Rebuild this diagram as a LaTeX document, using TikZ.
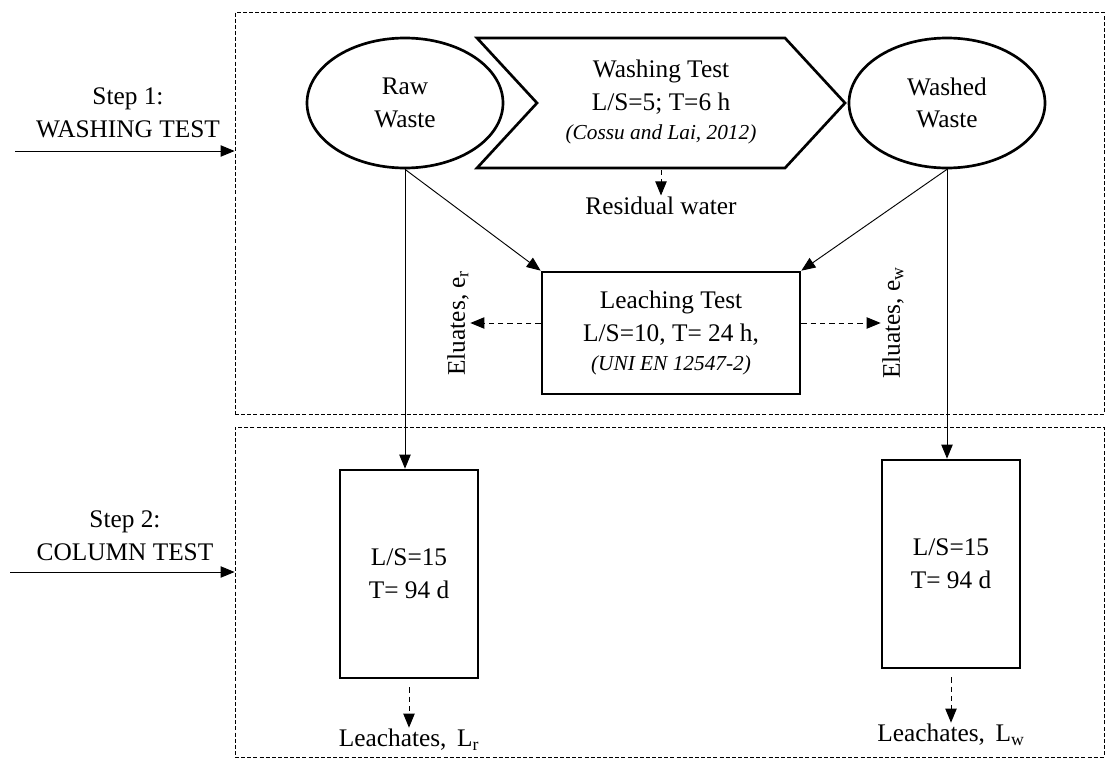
\documentclass[tikz,border=0pt]{standalone}
\usepackage{fontspec}
\setmainfont{Liberation Serif}
\usetikzlibrary{arrows.meta,calc,shapes.geometric}
\begin{document}
\begin{tikzpicture}[x=0.75pt,y=-0.75pt,
  >={Triangle[length=10.5pt,width=8.5pt]},
  every node/.style={font=\fontsize{19}{24.5}\selectfont, inner sep=0pt, align=center},
  thickbox/.style={draw, line width=2pt},
  ell/.style={thickbox, ellipse, minimum width=147pt, minimum height=97.5pt},
  col/.style={thickbox, rectangle, minimum width=103.5pt, minimum height=156pt},
  stagebox/.style={draw, line width=0.6pt, dash pattern=on 3pt off 1.6pt, minimum width=651.75pt},
  conn/.style={->, line width=0.7pt},
  dconn/.style={->, line width=0.7pt, dash pattern=on 4pt off 3pt, shorten >=1pt}
]
\useasboundingbox (0,0) rectangle (1106,760);

% stage boxes
\node[stagebox, minimum height=301.5pt] (stage1) at (669.5,213) {};
\node[stagebox, minimum height=247.5pt] (stage2) at (669.5,592) {};

% step labels
\node (step1) at (128,113) {Step 1:\\WASHING TEST};
\coordinate (s1start) at (15,151);
\draw[conn] (s1start) -- (s1start -| stage1.west);
\node (step2) at (125,536) {Step 2:\\COLUMN TEST};
\coordinate (s2start) at (10,572);
\draw[conn] (s2start) -- (s2start -| stage2.west);

% top row
\node[ell] (raw) at (405,103) {Raw\\Waste};
\node[ell] (washed) at (947,103) {Washed\\Waste};
\draw[thickbox, line join=miter] (477,38) -- (785,38) -- (845,103) -- (785,168) -- (477,168) -- (537,103) -- cycle;
\node (wash) at (661,102) {Washing Test\\L/S=5; T=6 h\\[-3pt]{\fontsize{16}{20}\selectfont\itshape (Cossu and Lai, 2012)}};
\coordinate (washbot) at (661,170);
\node (resid) at (661,206) {Residual water};
\draw[dconn] (washbot) -- (resid.north);

% leaching test
\node[thickbox, minimum width=193.5pt, minimum height=91.5pt] (leach) at (671,333)
  {Leaching Test\\L/S=10, T= 24 h,\\[-3pt]{\fontsize{16}{20}\selectfont\itshape (UNI EN 12547-2)}};
\node[rotate=90] (er) at (458,323) {Eluates, e\textsubscript{r}};
\node[rotate=90] (ew) at (893,323) {Eluates, e\textsubscript{w}};
\draw[dconn] (leach.west |- er) -- (er.south);
\draw[dconn] (leach.east |- ew) -- (ew.north);

% columns
\node[col] (colL) at (409,574) {L/S=15\\T= 94 d};
\node[col] (colR) at (951,564) {L/S=15\\T= 94 d};
\node (lr) at (409,740) {Leachates, \,L\textsubscript{r}};
\node (lw) at (951,735) {Leachates, \,L\textsubscript{w}};
\draw[dconn] ([yshift=-6pt]colL.south) -- (lr.north);
\draw[dconn] ([yshift=-6pt]colR.south) -- (lw.north);

% connectors
\draw[conn] (raw.south) -- (leach.north west);
\draw[conn] (washed.south) -- (leach.north east);
\draw[conn] (raw.south) -- (raw.south |- colL.north);
\draw[conn] (washed.south) -- (washed.south |- colR.north);
\end{tikzpicture}
\end{document}
